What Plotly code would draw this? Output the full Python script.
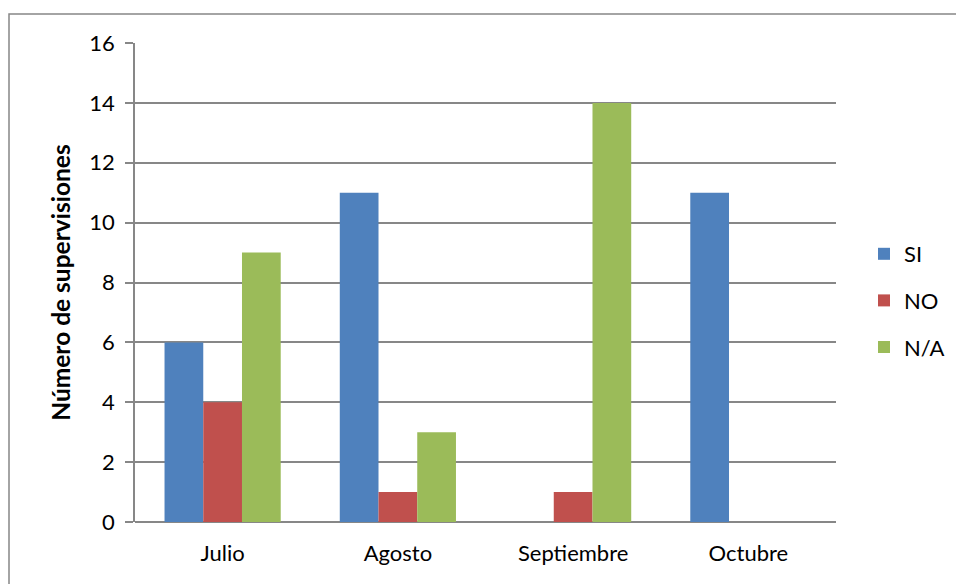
import plotly.graph_objects as go

categories = ["Julio", "Agosto", "Septiembre", "Octubre"]
si_values = [6, 11, 0, 11]
no_values = [4, 1, 1, 0]
na_values = [9, 3, 14, 0]
series_names = ["SI", "NO", "N/A"]
series_colors = ["#4F81BD", "#C0504D", "#9BBB59"]
y_ticks = [0, 2, 4, 6, 8, 10, 12, 14, 16]

FONT = "Lato, 'Open Sans', sans-serif"

fig = go.Figure()
for i, (name, vals, col) in enumerate(zip(series_names, [si_values, no_values, na_values], series_colors)):
    fig.add_trace(go.Bar(
        x=categories, y=vals, name=name, marker=dict(color=col, line=dict(width=0)),
        legendgroup=f"g{i}",
    ))

W, H = 956, 584
L, R, T, B = 135, 120, 43, 62
pw, ph = W - L - R, H - T - B

def px_x(x):
    return (x - L) / pw

def px_y(y):
    return 1 - (y - T) / ph

fig.update_layout(
    width=W, height=H,
    margin=dict(l=L, r=R, t=T, b=B, autoexpand=False),
    paper_bgcolor="white", plot_bgcolor="white",
    barmode="group", bargap=0.337, bargroupgap=0,
    font=dict(family=FONT, size=22, color="#000000"),
    showlegend=True,
    legend=dict(
        x=px_x(864), y=px_y(233), xanchor="left", yanchor="top",
        font=dict(size=22, family=FONT), tracegroupgap=15,
        itemwidth=30, bgcolor="rgba(0,0,0,0)",
    ),
    xaxis=dict(
        showgrid=False, showline=False, ticks="", zeroline=False,
        tickfont=dict(size=22), ticklabelstandoff=16,
    ),
    yaxis=dict(
        range=[0, 16], tickvals=y_ticks, showgrid=True, gridcolor="#878787", gridwidth=1.5,
        showline=True, linecolor="#878787", linewidth=1.5,
        ticks="outside", ticklen=8, tickcolor="#878787", tickwidth=1.5,
        zeroline=True, zerolinecolor="#878787", zerolinewidth=1.5,
        tickfont=dict(size=22), ticklabelstandoff=6,
        title=dict(text="<b>Número de supervisiones</b>", font=dict(size=24.5), standoff=12),
    ),
    shapes=[dict(
        type="rect", xref="paper", yref="paper",
        x0=px_x(9), x1=px_x(1000), y0=px_y(620), y1=px_y(14),
        line=dict(color="#878787", width=1.5), fillcolor="rgba(0,0,0,0)", layer="below",
    )],
)

fig.write_html("out.html")
